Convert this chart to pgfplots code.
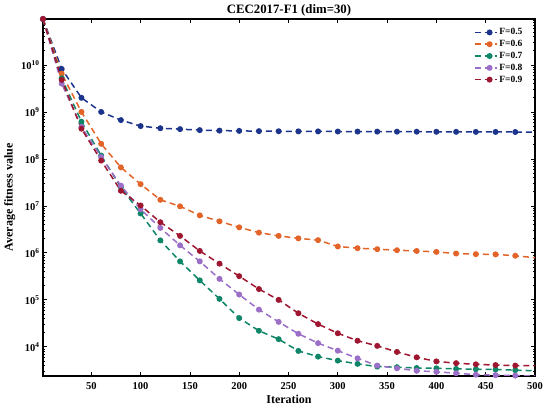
\documentclass[border=0pt]{standalone}
\usepackage{fontspec}
\setmainfont{Liberation Serif}
\usepackage{pgfplots}
\pgfplotsset{compat=1.18}
\usepackage{pgfplotstable}
\definecolor{cA}{RGB}{28,52,140}
\definecolor{cB}{RGB}{226,100,40}
\definecolor{cC}{RGB}{16,134,104}
\definecolor{cD}{RGB}{155,110,200}
\definecolor{cE}{RGB}{158,22,48}
\pgfplotstableread{
x a b c d e
1 9.5e10 9.5e10 9.5e10 9.5e10 9.5e10
20 8.2e9 6.5e9 5.2e9 4.0e9 4.8e9
40 2.0e9 1.0e9 6.2e8 4.8e8 4.4e8
60 1.0e9 2.1e8 1.18e8 1.1e8 9.2e7
80 6.7e8 6.6e7 2.5e7 2.7e7 2.1e7
100 5.0e8 2.9e7 6.9e6 8.5e6 1.02e7
120 4.5e8 1.35e7 1.85e6 3.4e6 4.5e6
140 4.3e8 9.8e6 6.6e5 1.45e6 2.3e6
160 4.1e8 6.3e6 2.6e5 6.6e5 1.1e6
180 4.0e8 4.7e6 1.05e5 2.8e5 5.9e5
200 3.95e8 3.5e6 4.1e4 1.3e5 3.2e5
220 3.9e8 2.7e6 2.2e4 6.2e4 1.7e5
240 3.88e8 2.3e6 1.46e4 3.4e4 1.0e5
260 3.86e8 2.04e6 8.2e3 1.9e4 5.2e4
280 3.85e8 1.87e6 6.2e3 1.2e4 3.05e4
300 3.83e8 1.37e6 5.1e3 8.3e3 1.95e4
320 3.82e8 1.26e6 4.35e3 5.7e3 1.35e4
340 3.81e8 1.2e6 3.8e3 4.0e3 1.05e4
360 3.8e8 1.14e6 3.7e3 3.5e3 7.8e3
380 3.79e8 1.1e6 3.55e3 3.1e3 6.0e3
400 3.78e8 1.05e6 3.5e3 2.95e3 4.9e3
420 3.77e8 9.7e5 3.4e3 2.75e3 4.5e3
440 3.76e8 9.4e5 3.35e3 2.56e3 4.25e3
460 3.75e8 9.3e5 3.3e3 2.5e3 4.1e3
480 3.74e8 8.7e5 3.2e3 2.45e3 4.0e3
500 3.73e8 7.9e5 3.1e3 2.4e3 4.0e3
}\data
\begin{document}
\begin{tikzpicture}
\useasboundingbox (-43bp,-36bp) rectangle (507bp,376bp);
\begin{axis}[
  scale only axis, width=492bp, height=357bp,
  ymode=log, log basis y=10,
  xmin=1, xmax=500, ymin=2.4e3, ymax=9.5e10,
  xtick={50,100,...,500},
  ytick={1e4,1e5,1e6,1e7,1e8,1e9,1e10},
  minor ytick={3e3,4e3,5e3,6e3,7e3,8e3,9e3,
    2e4,3e4,4e4,5e4,6e4,7e4,8e4,9e4,
    2e5,3e5,4e5,5e5,6e5,7e5,8e5,9e5,
    2e6,3e6,4e6,5e6,6e6,7e6,8e6,9e6,
    2e7,3e7,4e7,5e7,6e7,7e7,8e7,9e7,
    2e8,3e8,4e8,5e8,6e8,7e8,8e8,9e8,
    2e9,3e9,4e9,5e9,6e9,7e9,8e9,9e9,
    2e10,3e10,4e10,5e10,6e10,7e10,8e10,9e10},
  tick align=inside,
  major tick length=4.5bp, minor tick length=2.5bp,
  axis line style={line width=1.2bp},
  every tick/.style={black, line width=0.8bp},
  yticklabel={\pgfmathparse{int(round(\tick))}10\textsuperscript{\pgfmathresult}},
  /pgf/number format/assume math mode=true,
  ticklabel style={font=\bfseries\fontsize{10.5bp}{12bp}\selectfont},
  xticklabel style={yshift=-3bp},
  xlabel={\textbf{Iteration}}, ylabel={\textbf{Average fitness value}},
  label style={font=\bfseries\fontsize{12bp}{14bp}\selectfont},
  xlabel style={yshift=1bp},
  ylabel style={yshift=-1bp},
  title={\textbf{CEC2017-F1 (dim=30)}},
  title style={font=\bfseries\fontsize{12.8bp}{14bp}\selectfont, yshift=-7bp},
  legend style={at={(0.985,0.985)}, anchor=north east, draw=none, fill=none,
    font=\bfseries\fontsize{9.5bp}{11bp}\selectfont, row sep=0bp},
  legend cell align=left,
  legend image code/.code={\draw[#1,mark indices={2}] plot coordinates {(0bp,0bp) (15bp,0bp) (22bp,0bp)};},
  every axis plot/.append style={line width=1.5bp, dash pattern=on 6bp off 4bp,
    mark=*, mark size=2.2bp, mark options={solid}, mark indices={1,...,25}},
]
\addplot[cA] table[x=x,y=a]{\data};
\addplot[cB] table[x=x,y=b]{\data};
\addplot[cC] table[x=x,y=c]{\data};
\addplot[cD] table[x=x,y=d]{\data};
\addplot[cE] table[x=x,y=e]{\data};
\legend{F=0.5,F=0.6,F=0.7,F=0.8,F=0.9}
\end{axis}
\end{tikzpicture}
\end{document}
